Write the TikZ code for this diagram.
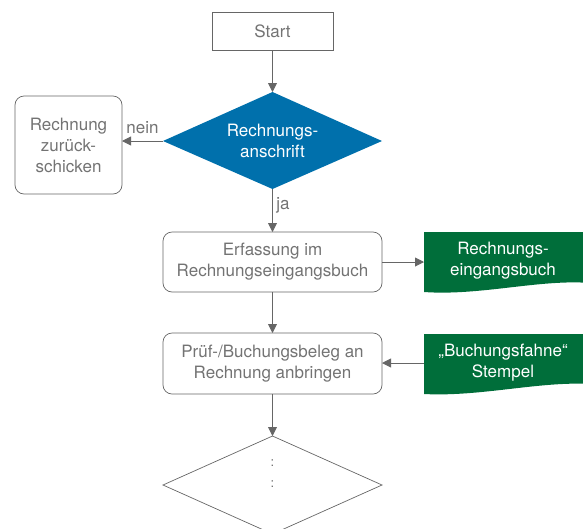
\documentclass[tikz,border=0pt]{standalone}
\usepackage{fontspec}
\setmainfont{TeX Gyre Heros}
\usetikzlibrary{arrows.meta,shapes.geometric}
\definecolor{txtgray}{HTML}{737373}
\definecolor{linegray}{HTML}{666666}
\definecolor{dblue}{HTML}{0070AC}
\definecolor{dgreen}{HTML}{006E3A}
\begin{document}
\begin{tikzpicture}[x=1pt,y=-1pt,
  every node/.style={font=\fontsize{17}{21}\selectfont, text=txtgray, align=center},
  conn/.style={draw=linegray, line width=0.9pt, -{Triangle[length=9pt,width=9pt]}},
  boxr/.style={draw=linegray, line width=0.7pt, rounded corners=9pt},
  lbl/.style={font=\fontsize{17}{19}\selectfont, text=txtgray}]
\useasboundingbox (0,0) rectangle (583,528);
\begin{scope}
\clip (0,0) rectangle (583,528);
% Start
\draw[linegray, line width=0.8pt] (212,12) rectangle (333,50);
\node (start) at (272.5,31) {Start};
\coordinate (startb) at (272.5,50);
% decision
\fill[dblue] (163,141) -- (272.5,92) -- (382,141) -- (272.5,189) -- cycle;
\node[text=white] (dec) at (272.5,141) {Rechnungs-\\anschrift};
\coordinate (dect) at (272.5,92);
\coordinate (decl) at (163,141);
\coordinate (decb) at (272.5,189);
% return box
\draw[boxr] (15,96) rectangle (122,194);
\node (ret) at (68.5,145) {Rechnung\\zurück-\\schicken};
\coordinate (retr) at (122,141);
% Erfassung
\draw[boxr] (163,232) rectangle (382,292);
\node (erf) at (272.5,262) {Erfassung im\\Rechnungseingangsbuch};
\coordinate (erft) at (272.5,232);
\coordinate (erfr) at (382,262);
\coordinate (erfb) at (272.5,292);
% doc1
\fill[dgreen] (424,232) -- (590,232) -- (590,283) .. controls (540,279) and (480,296) .. (424,292) -- cycle;
\node[text=white] (doc1) at (503,261) {Rechnungs-\\eingangsbuch};
\coordinate (doc1l) at (424,262);
% Pruef
\draw[boxr] (163,333) rectangle (382,394);
\node (pruef) at (272.5,364) {Prüf-/Buchungsbeleg an\\Rechnung anbringen};
\coordinate (prueft) at (272.5,333);
\coordinate (pruefr) at (382,363);
\coordinate (pruefb) at (272.5,394);
% doc2
\fill[dgreen] (424,334) -- (590,334) -- (590,384) .. controls (540,381) and (480,397) .. (424,394) -- cycle;
\node[text=white] (doc2) at (503,363) {„Buchungsfahne“\\Stempel};
\coordinate (doc2l) at (424,363);
% bottom diamond
\draw[linegray, line width=0.7pt] (163,485) -- (272.5,436) -- (382,485) -- (272.5,534) -- cycle;
\coordinate (dec2t) at (272.5,436);
\node[font=\fontsize{13}{21}\selectfont] (dots) at (272.5,474) {:\\:};
% connectors
\draw[conn] (startb) -- (dect);
\draw[conn] (decl) -- (retr) node[midway, above, lbl, yshift=3pt] {nein};
\draw[conn] (decb) -- (erft) node[midway, right, lbl, xshift=0pt, yshift=5pt] {ja};
\draw[conn] (erfr) -- (doc1l);
\draw[conn] (erfb) -- (prueft);
\draw[conn] (doc2l) -- (pruefr);
\draw[conn] (pruefb) -- (dec2t);
\end{scope}
\end{tikzpicture}
\end{document}
